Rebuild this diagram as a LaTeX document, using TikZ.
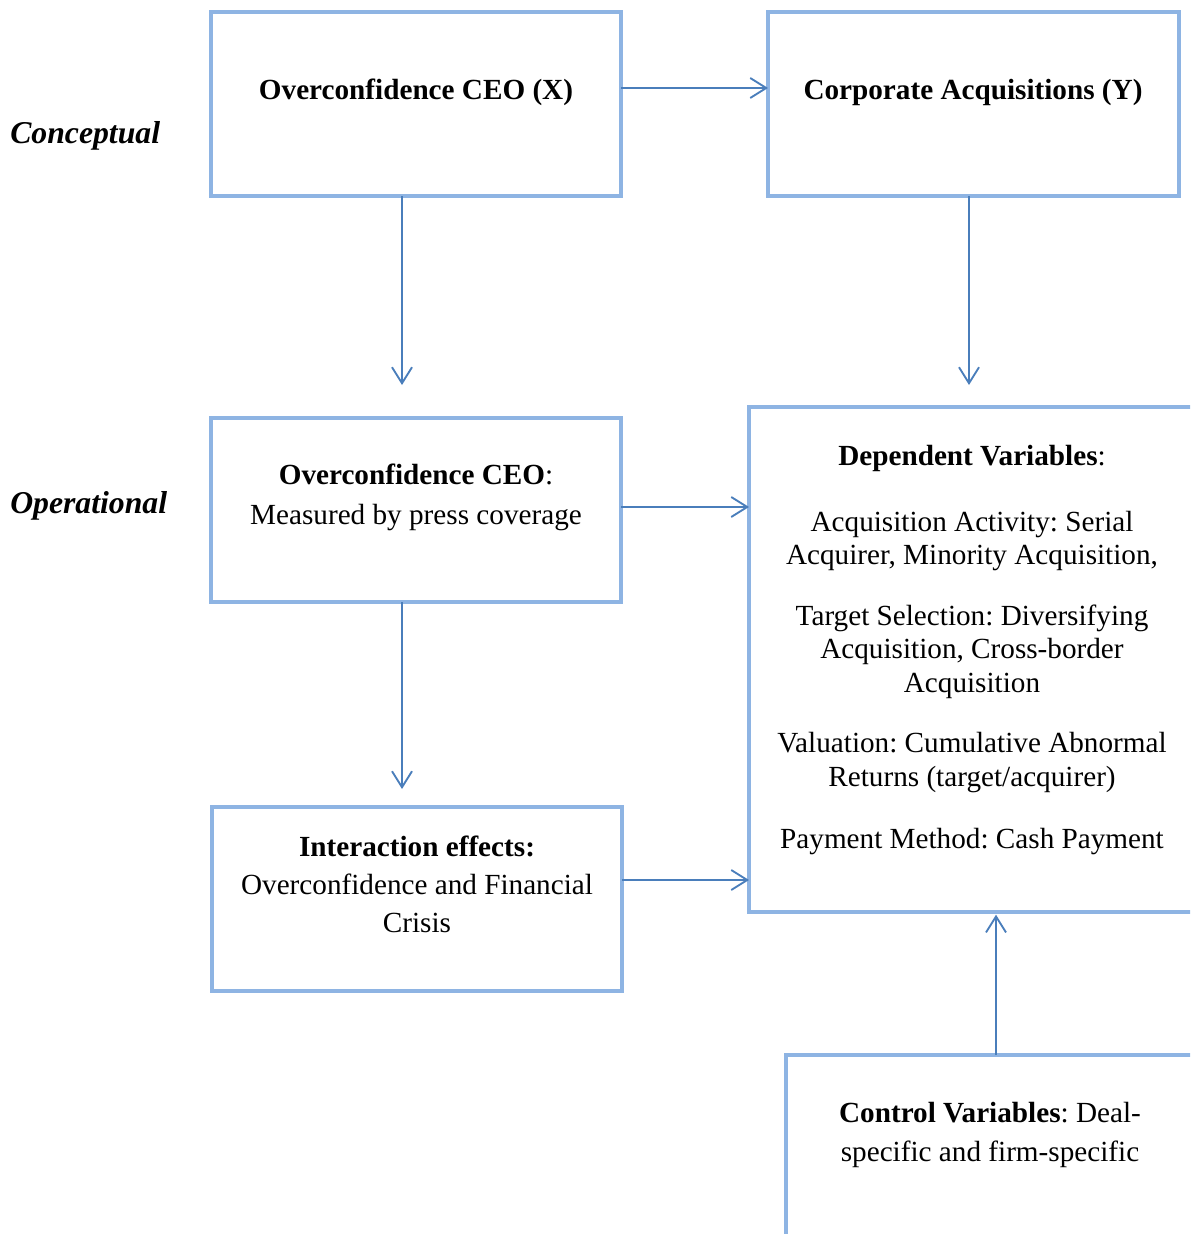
\documentclass[tikz,border=0pt]{standalone}
\usepackage{fontspec}
\setmainfont{Liberation Serif}
\frenchspacing
\usetikzlibrary{arrows.meta,calc}
\definecolor{boxblue}{HTML}{8EB4E3}
\definecolor{arrblue}{HTML}{4A7EBB}
\begin{document}
\frenchspacing
\begin{tikzpicture}[x=0.75pt,y=-0.75pt,
  box/.style={draw=boxblue,line width=3pt,inner sep=0pt,outer sep=0pt},
  arr/.style={draw=arrblue,line width=1.4pt,-{Straight Barb[length=12pt,width=15pt,line width=1.4pt]}},
  txt/.style={anchor=base,inner sep=0pt,font=\fontsize{21.9}{26}\selectfont},
  side/.style={anchor=base west,inner sep=0pt,font=\fontsize{23.8}{28}\selectfont\bfseries\itshape}]
\clip (0,0) rectangle (1190,1234);
\useasboundingbox (0,0) rectangle (1190,1234);
% boxes
\node[box,minimum width=307.5pt,minimum height=138pt] (X) at (416,104) {};
\node[box,minimum width=308.25pt,minimum height=138pt] (Y) at (973.5,104) {};
\node[box,minimum width=307.5pt,minimum height=138pt] (Op) at (416,510) {};
\node[box,minimum width=307.5pt,minimum height=138pt] (In) at (417,899) {};
\node[box,minimum width=338.25pt,minimum height=378.75pt] (Dep) at (974.5,659.5) {};
\node[box,minimum width=310.5pt,minimum height=146.25pt] (Ct) at (993,1152.5) {};
% side labels
\node[side] (lc) at (10,144) {Conceptual};
\node[side] (lo) at (10,513) {Operational};
% texts
\node[txt] (tx) at (416,100) {\textbf{Overconfidence CEO (X)}};
\node[txt] (ty) at (973,100) {\textbf{Corporate Acquisitions (Y)}};
\node[txt] (to1) at (416,484) {\textbf{Overconfidence CEO}:};
\node[txt] (to2) at (416,524) {Measured by press coverage};
\node[txt] (ti1) at (417,856) {\textbf{Interaction effects:}};
\node[txt] (ti2) at (417,894) {Overconfidence and Financial};
\node[txt] (ti3) at (417,932) {Crisis};
\node[txt] (td1) at (972,465) {\textbf{Dependent Variables}:};
\node[txt] (td2) at (972,531) {Acquisition Activity: Serial};
\node[txt] (td3) at (972,564) {Acquirer, Minority Acquisition,};
\node[txt] (td4) at (972,625) {Target Selection: Diversifying};
\node[txt] (td5) at (972,658) {Acquisition, Cross-border};
\node[txt] (td6) at (972,692) {Acquisition};
\node[txt] (td7) at (972,752) {Valuation: Cumulative Abnormal};
\node[txt] (td8) at (972,786) {Returns (target/acquirer)};
\node[txt] (td9) at (972,848) {Payment Method: Cash Payment};
\node[txt] (tc1) at (990,1122) {\textbf{Control Variables}: Deal-};
\node[txt] (tc2) at (990,1161) {specific and firm-specific};
% guide coordinates
\coordinate (h1) at (0,88);
\coordinate (h2) at (0,507);
\coordinate (h3) at (0,880);
\coordinate (v1) at (402,0);
\coordinate (v2) at (969,0);
\coordinate (v3) at (996,0);
% connectors
\draw[arr] (X.east |- h1) -- (Y.west |- h1);
\draw[arr,shorten >=24.75pt] (X.south -| v1) -- (Op.north -| v1);
\draw[arr,shorten >=16.5pt] (Y.south -| v2) -- (Dep.north -| v2);
\draw[arr] (Op.east |- h2) -- (Dep.west |- h2);
\draw[arr,shorten >=13.5pt] (Op.south -| v1) -- (In.north -| v1);
\draw[arr] (In.east |- h3) -- (Dep.west |- h3);
\draw[arr,shorten >=2pt] (Ct.north -| v3) -- (Dep.south -| v3);
\end{tikzpicture}
\end{document}
